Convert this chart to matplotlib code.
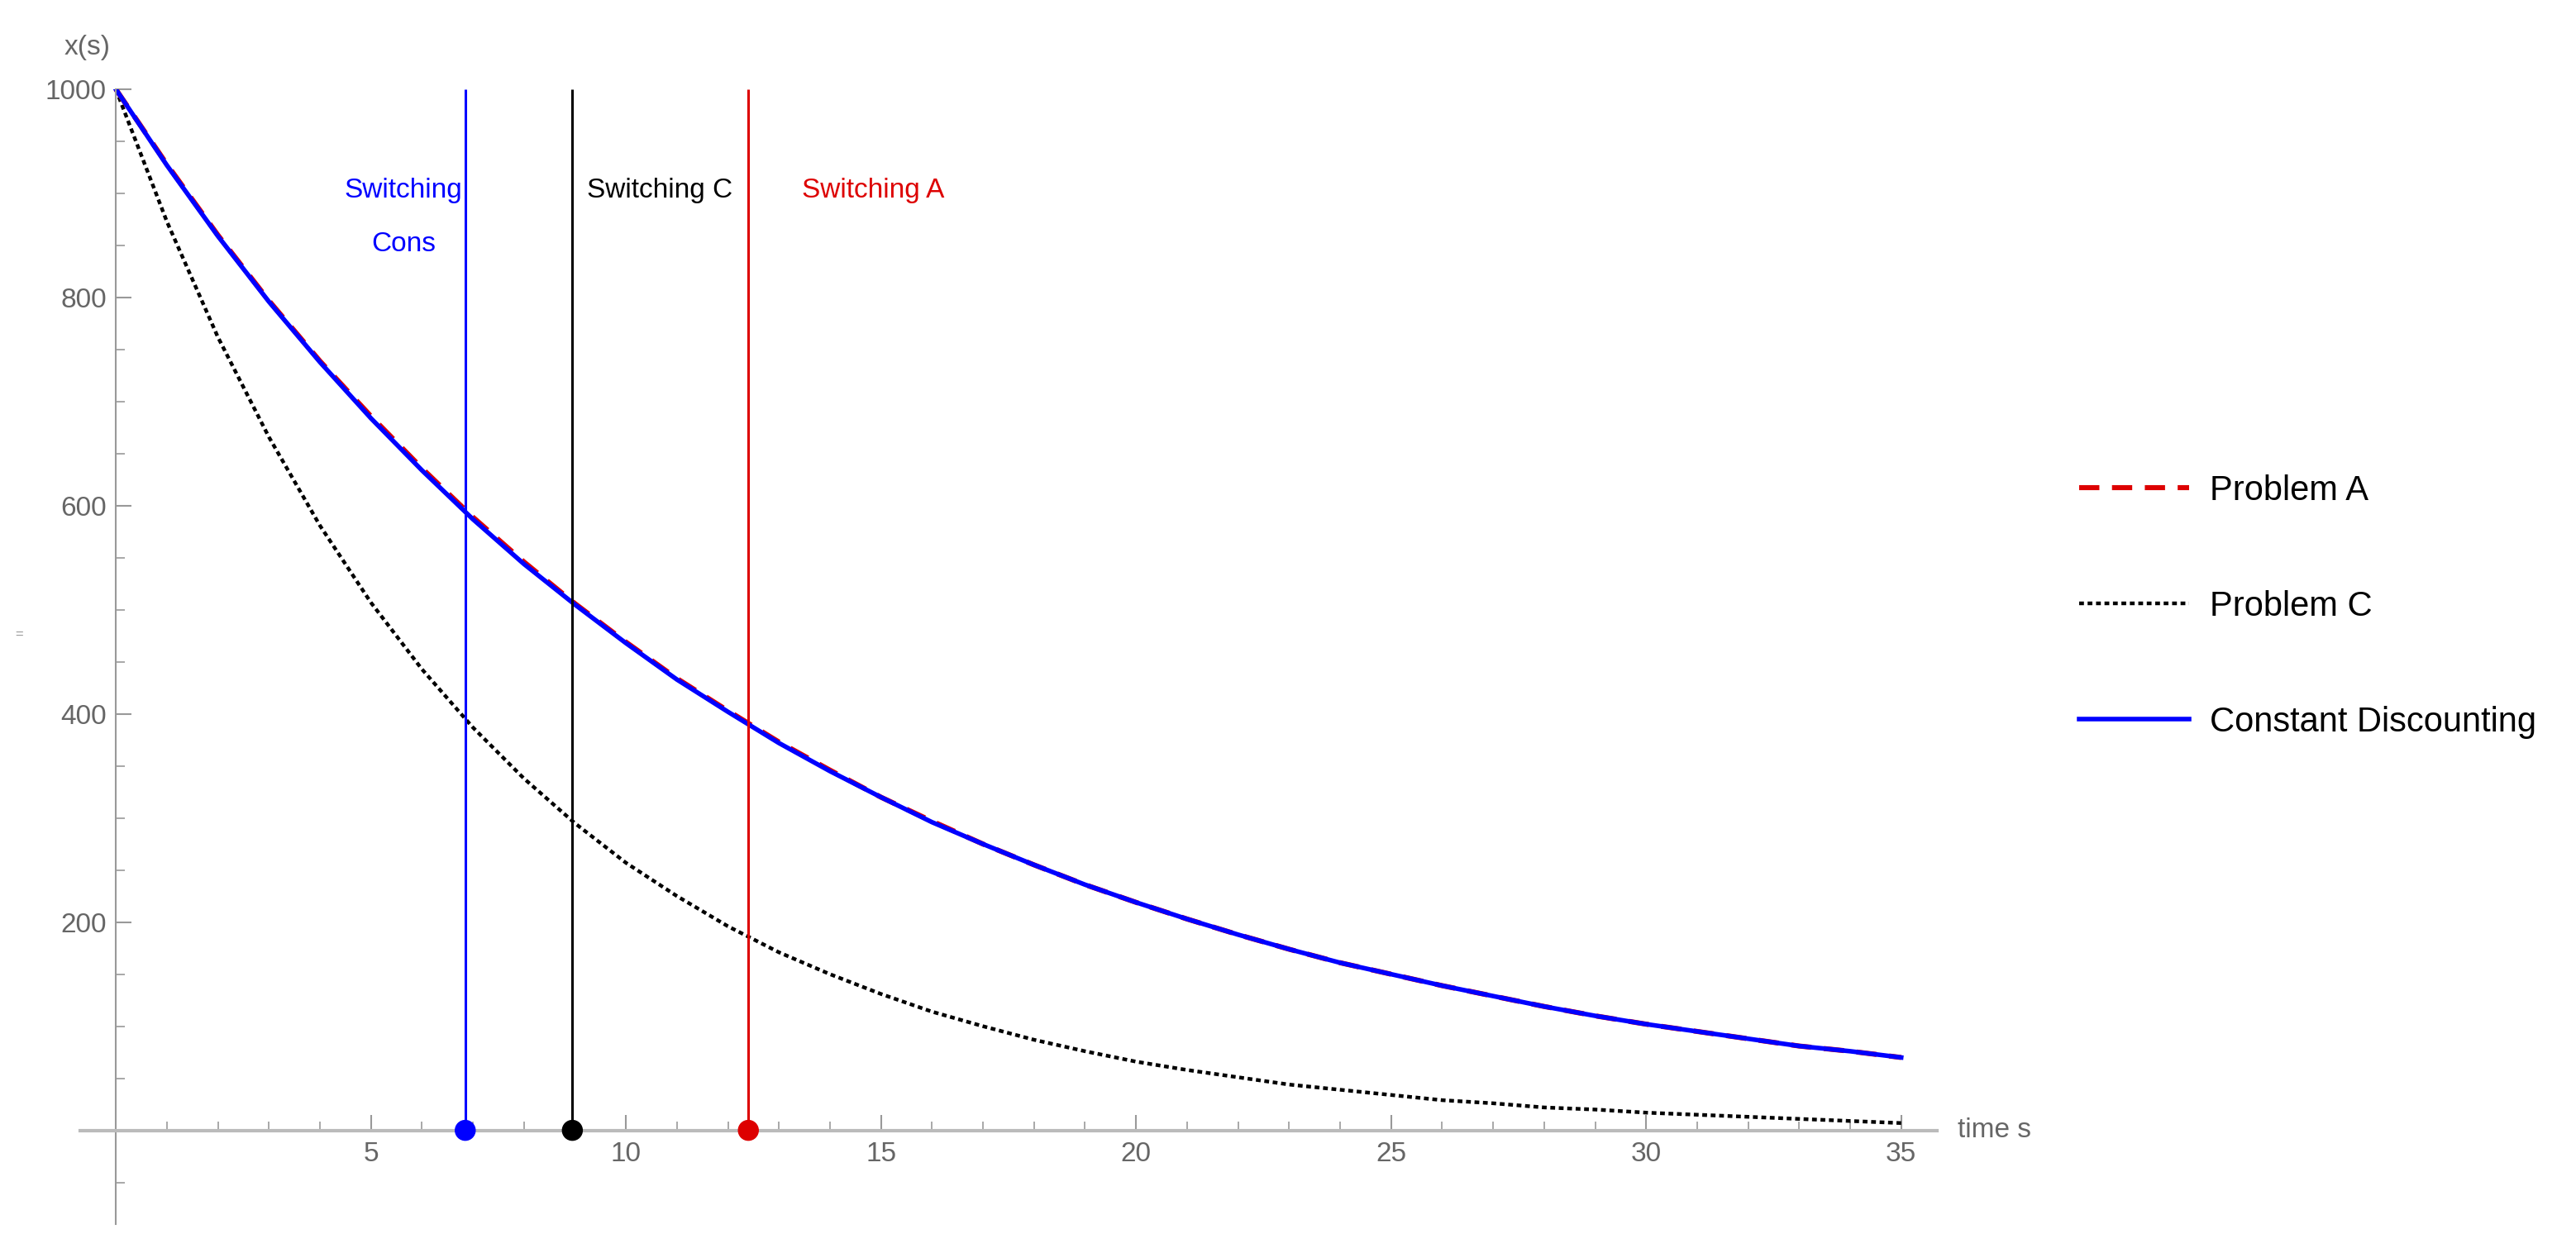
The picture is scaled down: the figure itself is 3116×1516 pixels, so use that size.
import matplotlib.pyplot as plt

plt.rcParams['font.family'] = ['Liberation Sans', 'DejaVu Sans']

# values, one per unit of time
t = list(range(36))
const_disc = [1000, 927, 859, 796, 738, 684, 634, 587, 544, 505, 468, 433, 402, 372, 345, 320, 296, 275,
              255, 236, 219, 203, 188, 174, 161, 150, 139, 129, 119, 110, 102, 95, 88, 81, 76, 70]
problem_a = [1000, 928, 860, 797, 739, 686, 636, 589, 546, 506, 469, 434, 403, 373, 346, 320, 297, 275,
             255, 236, 219, 203, 188, 174, 161, 150, 139, 129, 119, 110, 102, 95, 88, 81, 76, 70]
problem_c = [1000, 873, 762, 666, 581, 507, 443, 387, 338, 295, 257, 225, 196, 171, 150, 131, 114, 100,
             87, 76, 66, 58, 51, 44, 39, 34, 29, 26, 22, 20, 17, 15, 13, 11, 9, 7]

switch_times = [6.85, 8.95, 12.4]
switch_colors = ['#0000ff', '#000000', '#dd0000']
switch_labels = ['Switching\nCons', 'Switching C', 'Switching A']

fig = plt.figure(figsize=(31.16, 15.16), dpi=100)
ax = fig.add_axes([0.0311, 0.0231, 0.7208, 0.9057])
ax.set_xlim(-0.7, 35.7)
ax.set_ylim(-90, 1000)

l_c, = ax.plot(t, problem_c, color='black', lw=3.2, ls=(0, (1.3, 1.0)), label='Problem C')
l_a, = ax.plot(t, problem_a, color='#dd0000', lw=4.4, ls=(0, (4, 2.5)), label='Problem A')
l_b, = ax.plot(t, const_disc, color='#0000ff', lw=4.0, label='Constant Discounting')

ax.vlines(switch_times, 0, 1000, colors=switch_colors, lw=2.2, zorder=3)
ax.scatter(switch_times, [0, 0, 0], s=300, c=switch_colors, zorder=5, clip_on=False)

ax.text(5.64, 903, 'Switching', color='#0000ff', fontsize=24, ha='center', va='center')
ax.text(5.64, 851, 'Cons', color='#0000ff', fontsize=24, ha='center', va='center')
ax.text(9.24, 903, 'Switching C', color='black', fontsize=24, ha='left', va='center')
ax.text(13.45, 903, 'Switching A', color='#dd0000', fontsize=24, ha='left', va='center')

# axes drawn through the origin, Mathematica style
for s in ['top', 'right']:
    ax.spines[s].set_visible(False)
ax.spines['left'].set_position(('data', 0))
ax.spines['bottom'].set_position(('data', 0))
ax.spines['left'].set_color('#999999')
ax.spines['bottom'].set_color('#bbbbbb')
ax.spines['left'].set_linewidth(1.5)
ax.spines['bottom'].set_linewidth(3)

ax.set_xticks([5, 10, 15, 20, 25, 30, 35])
ax.set_xticks(range(1, 36), minor=True)
ax.set_yticks([200, 400, 600, 800, 1000])
ax.set_yticks([y for y in range(-50, 1000, 50) if y % 200 != 0 and y != 0], minor=True)
ax.tick_params(which='both', direction='in', colors='#999999', labelcolor='#666666', labelsize=24)
ax.tick_params(which='major', length=14, width=1.5)
ax.tick_params(which='minor', length=8, width=1.2)
ax.tick_params(axis='x', pad=10)
ax.tick_params(axis='y', pad=8)

ax.text(-0.1, 1040, 'x(s)', color='#666666', fontsize=24, ha='right', va='center', clip_on=False)
ax.text(36.1, 0, 'time s', color='#666666', fontsize=24, ha='left', va='center', clip_on=False)
ax.text(-1.9, 476, '=', color='#999999', fontsize=12, ha='center', va='center', clip_on=False)

fig.legend([l_a, l_c, l_b], ['Problem A', 'Problem C', 'Constant Discounting'],
           loc='center left', bbox_to_anchor=(0.807, 0.516), frameon=False, fontsize=30,
           handlelength=3.2, handletextpad=0.6, labelspacing=2.4, borderpad=0, borderaxespad=0)

fig.savefig('out.png', dpi=100, facecolor='white')
